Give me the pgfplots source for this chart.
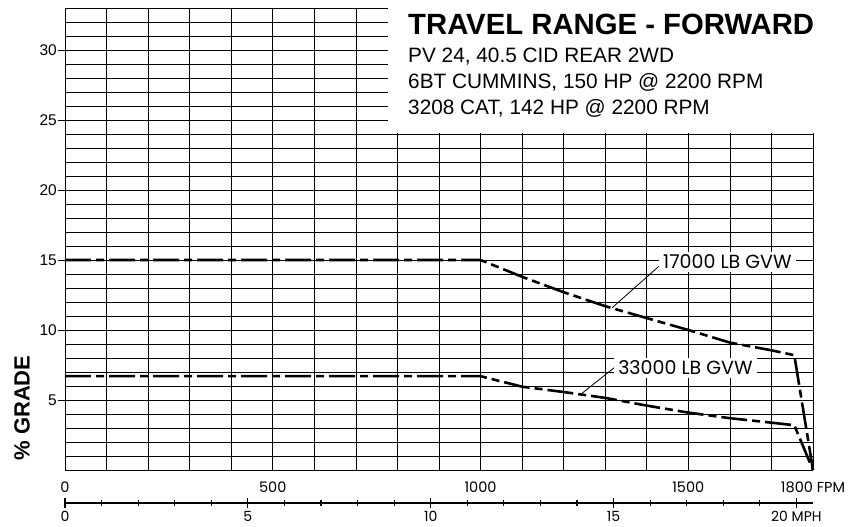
\documentclass[border=0pt]{standalone}
\usepackage{fontspec}
\setmainfont{Liberation Sans}
\newfontfamily\geo{Poppins}
\usepackage{pgfplots}
\pgfplotsset{compat=1.18}
\pgfplotstableread{
x y
0 15.0
1000 15.0
1100 13.8
1200 12.7
1300 11.7
1400 10.85
1500 10.0
1600 9.1
1700 8.55
1755 8.2
1800 0
}\gvwA
\pgfplotstableread{
x y
0 6.7
1000 6.7
1100 5.95
1200 5.57
1300 5.15
1400 4.6
1500 4.1
1600 3.7
1700 3.38
1755 3.2
1800 0
}\gvwB
\begin{document}
\begin{tikzpicture}
\begin{axis}[
  scale only axis, width=748pt, height=462pt,
  at={(0pt,0pt)}, anchor=south west,
  xmin=0, xmax=1800, ymin=0, ymax=33,
  axis line style={draw=none},
  clip=false,
  xtick={0,500,1000,1500,1800},
  xticklabels={0,500,1000,1500,1800 FPM},
  xticklabel style={font=\geo\fontsize{14.5}{15}\selectfont, anchor=base, yshift=-15pt, inner sep=0pt},
  minor xtick={0,100,...,1800},
  ytick={5,10,...,30},
  yticklabel style={font=\fontsize{15.5}{15.5}\selectfont, inner sep=1pt, /pgf/number format/assume math mode=true},
  minor ytick={0,1,...,33},
  grid=both,
  major grid style={black, line width=0.7pt},
  minor grid style={black, line width=0.7pt},
  tick align=outside,
  ytick pos=left,
  xtick style={draw=none},
  ytick style={black, line width=0.7pt},
  major tick length=7pt,
  minor tick length=0pt,
]
\addplot[black, line width=2.6pt, dash pattern=on 26pt off 5pt on 8pt off 5pt, line join=round] table {\gvwA};
\addplot[black, line width=2.6pt, dash pattern=on 26pt off 5pt on 8pt off 5pt, line join=round] table {\gvwB};
\draw[black, line width=0.8pt] (axis cs:1430,14.57) -- (axis cs:1317,11.6);
\draw[black, line width=0.8pt] (axis cs:1334,7.6) -- (axis cs:1243,5.45);
\node[fill=white, inner xsep=4pt, inner ysep=3pt, font=\geo\fontsize{19}{19}\selectfont] at (axis cs:1594,14.86) {17000 LB GVW};
\node[fill=white, inner xsep=4pt, inner ysep=3pt, font=\geo\fontsize{19}{19}\selectfont] at (axis cs:1493,7.3) {33000 LB GVW};
\end{axis}
\begin{axis}[
  scale only axis, width=748pt, height=20pt,
  at={(0pt,-43pt)}, anchor=south west,
  xmin=0, xmax=20.4545, ymin=-1, ymax=1,
  axis x line=middle, axis y line=none,
  axis line style={-, line width=1.2pt},
  every inner x axis line/.append style={-},
  every outer x axis line/.append style={-},
  xtick={0,5,10,15,20},
  xticklabels={0,5,10,15,20 MPH},
  minor xtick={1,...,19},
  xticklabel style={font=\geo\fontsize{14}{14}\selectfont, anchor=base, yshift=-14pt, inner sep=0pt},
  tick align=center,
  major tick length=10pt,
  minor tick length=6pt,
  tick style={black, line width=1.2pt},
]
\end{axis}
\fill[white] (323pt,337pt) rectangle (790pt,472pt);
\node[anchor=base west, inner sep=0pt, font=\fontsize{29.3}{30}\selectfont\bfseries] at (343pt,435pt) {TRAVEL RANGE - FORWARD};
\node[anchor=base west, inner sep=0pt, font=\fontsize{20.8}{22}\selectfont] at (343pt,407pt) {PV 24, 40.5 CID REAR 2WD};
\node[anchor=base west, inner sep=0pt, font=\fontsize{20.8}{22}\selectfont] at (343pt,381pt) {6BT CUMMINS, 150 HP @ 2200 RPM};
\node[anchor=base west, inner sep=0pt, font=\fontsize{20.8}{22}\selectfont] at (343pt,355pt) {3208 CAT, 142 HP @ 2200 RPM};
\node[rotate=90, inner sep=0pt, font=\fontsize{22}{22}\selectfont\bfseries] at (-43pt,62pt) {\% GRADE};
\pgfresetboundingbox
\path (-65pt,-57pt) rectangle (784pt,470pt);
\end{tikzpicture}
\end{document}
